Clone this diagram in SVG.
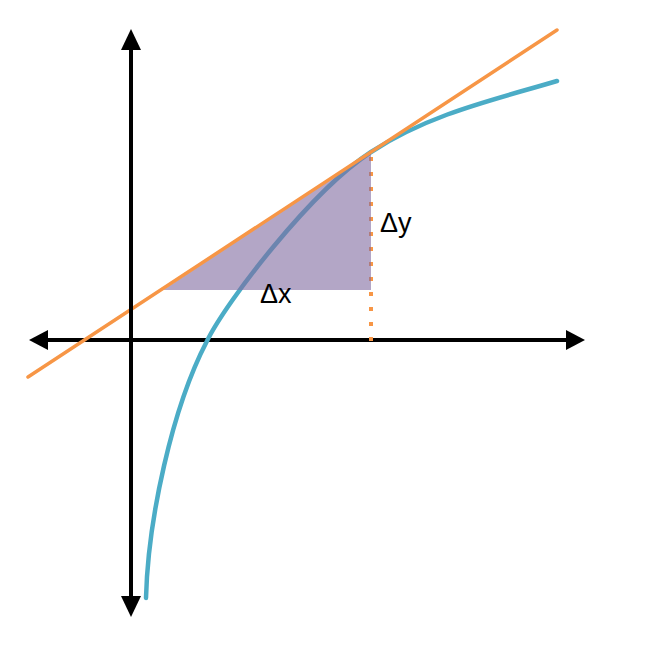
<svg xmlns="http://www.w3.org/2000/svg" width="648" height="648" viewBox="0 0 648 648">
<style>
.axis{stroke:#000;stroke-width:4;fill:none}
.head{fill:#000}
.curve{stroke:#4bacc6;stroke-width:4.5;fill:none;stroke-linecap:round}
.tangent{stroke:#f79646;stroke-width:3.5;fill:none;stroke-linecap:round}
.dots{stroke:#f79646;stroke-width:4;stroke-dasharray:4 11;fill:none}
.tri{fill:#806ba0;fill-opacity:0.6}
.lbl{font-family:"Liberation Sans",Arial,sans-serif;font-size:27px;fill:#000}
</style>
<rect width="648" height="648" fill="#fff"/>
<g id="connectors">
<g id="x-axis">
<line class="axis" x1="44" y1="340" x2="570" y2="340"/>
<polygon class="head" points="29,340 48,330 48,350"/>
<polygon class="head" points="585,340 566,330 566,350"/>
</g>
<path id="curve" class="curve" d="M146,598 C148,520 172,408 207,341 C226,302 311,191 371,152 C431,113 497,99 557,81"/>
<line id="drop" class="dots" x1="371" y1="157" x2="371" y2="343"/>
</g>
<g id="triangle">
<polygon class="tri" points="163,290 371,152 371,290"/>
</g>
<g id="tangent">
<line class="tangent" x1="28" y1="377" x2="557" y2="30"/>
</g>
<g id="y-axis">
<line class="axis" x1="131" y1="45" x2="131" y2="602"/>
<polygon class="head" points="131,29 121,50 141,50"/>
<polygon class="head" points="131,617 121,596 141,596"/>
</g>
<g id="label-dy"><text class="lbl" x="380" y="232">Δy</text></g>
<g id="label-dx"><text class="lbl" x="260" y="303">Δx</text></g>
</svg>
